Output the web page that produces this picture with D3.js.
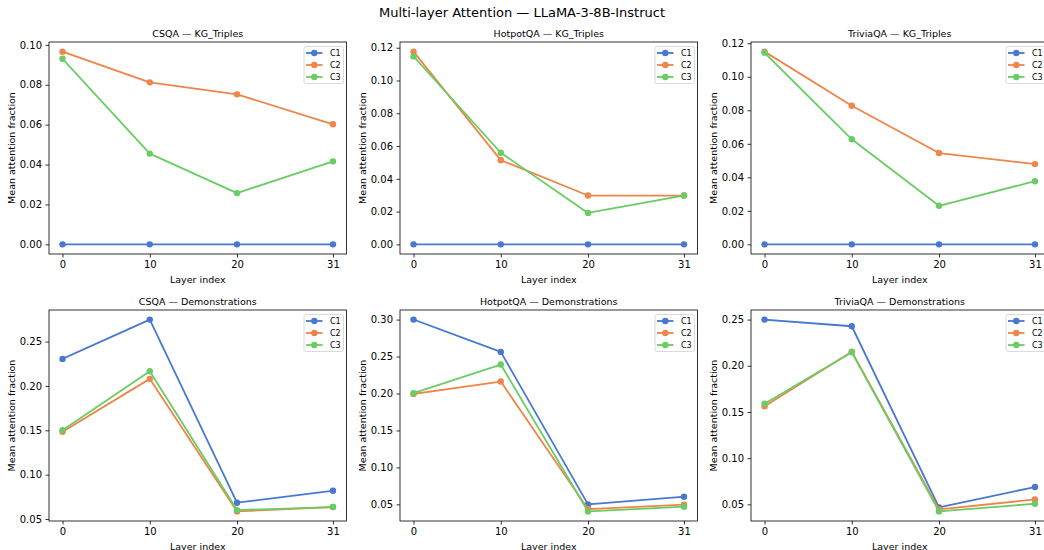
<!DOCTYPE html>
<html><head><meta charset="utf-8">
<script src="https://cdn.jsdelivr.net/npm/d3@7"></script>
<style>
html,body{margin:0;padding:0;background:#fff;}
svg{display:block;font-family:"DejaVu Sans",sans-serif;}
</style></head>
<body>
<svg id="chart" width="1044" height="550"></svg>
<script>
// ---- data ----
const layers = [0, 10, 20, 31];
const datasets = ["CSQA", "HotpotQA", "TriviaQA"];
const sources = ["KG_Triples", "Demonstrations"];
const seriesNames = ["C1", "C2", "C3"];
const suptitle = "Multi-layer Attention — LLaMA-3-8B-Instruct";

const csqaKgC1 = [0, 0, 0, 0];
const csqaKgC2 = [0.0966, 0.0812, 0.0752, 0.0602];
const csqaKgC3 = [0.0930, 0.0455, 0.0257, 0.0416];
const hotpotKgC1 = [0, 0, 0, 0];
const hotpotKgC2 = [0.1176, 0.0514, 0.0298, 0.0298];
const hotpotKgC3 = [0.1147, 0.0559, 0.0192, 0.0298];
const triviaKgC1 = [0, 0, 0, 0];
const triviaKgC2 = [0.1150, 0.0827, 0.0545, 0.0479];
const triviaKgC3 = [0.1144, 0.0627, 0.0230, 0.0377];

const csqaDemoC1 = [0.2305, 0.2748, 0.0684, 0.0819];
const csqaDemoC2 = [0.1483, 0.2080, 0.0586, 0.0635];
const csqaDemoC3 = [0.1502, 0.2166, 0.0601, 0.0635];
const hotpotDemoC1 = [0.3000, 0.2563, 0.0500, 0.0604];
const hotpotDemoC2 = [0.1995, 0.2162, 0.0437, 0.0495];
const hotpotDemoC3 = [0.2005, 0.2392, 0.0405, 0.0468];
const triviaDemoC1 = [0.2500, 0.2428, 0.0468, 0.0688];
const triviaDemoC2 = [0.1561, 0.2153, 0.0446, 0.0553];
const triviaDemoC3 = [0.1590, 0.2146, 0.0424, 0.0507];

const kgTicks1 = [0, 0.02, 0.04, 0.06, 0.08, 0.10];
const kgTicks2 = [0, 0.02, 0.04, 0.06, 0.08, 0.10, 0.12];
const demoTicks1 = [0.05, 0.10, 0.15, 0.20, 0.25];
const demoTicks2 = [0.05, 0.10, 0.15, 0.20, 0.25, 0.30];

const panelSeries = [
  [[csqaKgC1, csqaKgC2, csqaKgC3], [hotpotKgC1, hotpotKgC2, hotpotKgC3], [triviaKgC1, triviaKgC2, triviaKgC3]],
  [[csqaDemoC1, csqaDemoC2, csqaDemoC3], [hotpotDemoC1, hotpotDemoC2, hotpotDemoC3], [triviaDemoC1, triviaDemoC2, triviaDemoC3]]
];
const panelTicks = [[kgTicks1, kgTicks2, kgTicks2], [demoTicks1, demoTicks2, demoTicks1]];

// ---- style / layout ----
const colors = ["#4878d0", "#ee854a", "#6acc64"];
const colLeft = [49, 400, 751];
const axW = 297.5;
const rowTop = [42, 310];
const rowH = [212, 211];

const svg = d3.select("#chart");

svg.append("text").attr("x", 522).attr("y", 17)
  .attr("text-anchor", "middle").attr("font-size", 13).attr("fill", "#000")
  .text(suptitle);

sources.forEach((src, r) => {
  datasets.forEach((ds, c) => {
    const x0 = colLeft[c], y0 = rowTop[r], h = rowH[r];
    const series = panelSeries[r][c];
    const all = series.flat();
    const mn = d3.min(all), mx = d3.max(all);
    const pad = (mx - mn) * 0.05;
    const xPad = (d3.max(layers) - d3.min(layers)) * 0.05;
    const x = d3.scaleLinear().domain([d3.min(layers) - xPad, d3.max(layers) + xPad]).range([x0, x0 + axW]);
    const y = d3.scaleLinear().domain([mn - pad, mx + pad]).range([y0 + h, y0]);

    const g = svg.append("g");

    // axes
    const yAxis = d3.axisLeft(y).tickValues(panelTicks[r][c]).tickFormat(d3.format(".2f"))
      .tickSize(3.5).tickPadding(3.5);
    const gy = g.append("g").attr("transform", `translate(${x0},0)`).call(yAxis);
    const xAxis = d3.axisBottom(x).tickValues(layers).tickFormat(d3.format("d"))
      .tickSize(3.5).tickPadding(3.5);
    const gx = g.append("g").attr("transform", `translate(0,${y0 + h})`).call(xAxis);
    [gx, gy].forEach(a => {
      a.select(".domain").remove();
      a.selectAll(".tick line").attr("stroke", "#000").attr("stroke-width", 0.8);
      a.selectAll(".tick text").attr("font-size", 10).attr("fill", "#000")
        .attr("font-family", "DejaVu Sans, sans-serif");
    });

    // lines + markers
    const line = d3.line().x((d, i) => x(layers[i])).y(d => y(d));
    series.forEach((vals, k) => {
      g.append("path").datum(vals).attr("d", line)
        .attr("fill", "none").attr("stroke", colors[k]).attr("stroke-width", 1.8)
        .attr("stroke-linejoin", "round").attr("stroke-linecap", "square");
      g.selectAll(null).data(vals).enter().append("circle")
        .attr("cx", (d, i) => x(layers[i])).attr("cy", d => y(d))
        .attr("r", 3.2).attr("fill", colors[k]);
    });

    // frame
    g.append("rect").attr("x", x0).attr("y", y0).attr("width", axW).attr("height", h)
      .attr("fill", "none").attr("stroke", "#000").attr("stroke-width", 0.8);

    // titles
    g.append("text").attr("x", x0 + axW / 2).attr("y", y0 - 5.5)
      .attr("text-anchor", "middle").attr("font-size", 9.5).attr("fill", "#000")
      .text(`${ds} — ${src}`);
    g.append("text").attr("x", x0 + axW / 2).attr("y", y0 + h + 28.5)
      .attr("text-anchor", "middle").attr("font-size", 9.5).attr("fill", "#000")
      .text("Layer index");
    g.append("text")
      .attr("transform", `translate(${x0 - 34},${y0 + h / 2}) rotate(-90)`)
      .attr("text-anchor", "middle").attr("font-size", 9.5).attr("fill", "#000")
      .text("Mean attention fraction");

    // legend
    const lw = 39.5, lh = 37;
    const lx = x0 + axW - 3 - lw, ly = y0 + 4.5;
    const lg = g.append("g");
    lg.append("rect").attr("x", lx).attr("y", ly).attr("width", lw).attr("height", lh)
      .attr("rx", 2).attr("fill", "#fff").attr("fill-opacity", 0.8)
      .attr("stroke", "#d0d0d0").attr("stroke-width", 0.8);
    seriesNames.forEach((nm, k) => {
      const cy = ly + 6.5 + k * 12;
      lg.append("line").attr("x1", lx + 2).attr("x2", lx + 18.5).attr("y1", cy).attr("y2", cy)
        .attr("stroke", colors[k]).attr("stroke-width", 1.8);
      lg.append("circle").attr("cx", lx + 10.3).attr("cy", cy).attr("r", 3.2).attr("fill", colors[k]);
      lg.append("text").attr("x", lx + 26).attr("y", cy + 3).attr("font-size", 8).attr("fill", "#000").text(nm);
    });
  });
});
</script>
</body></html>
